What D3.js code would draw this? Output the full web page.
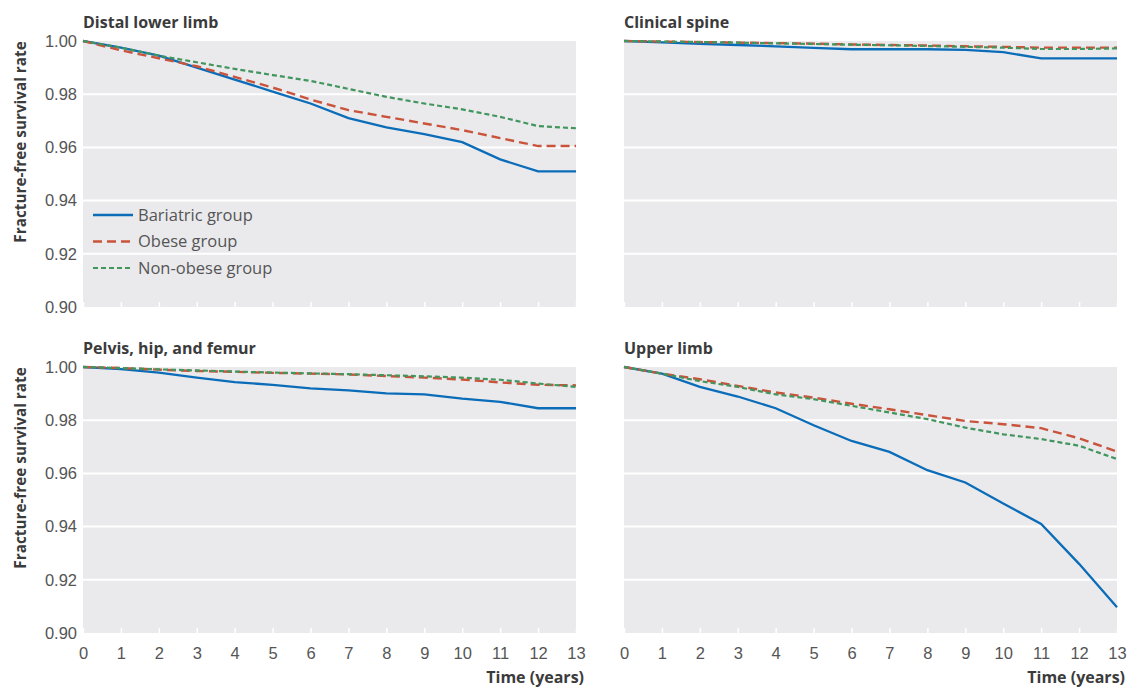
<!DOCTYPE html>
<html>
<head>
<meta charset="utf-8">
<script src="https://cdn.jsdelivr.net/npm/d3@7"></script>
<style>
  body { margin: 0; background: #fff; }
  svg { font-family: "Open Sans", Lato, sans-serif; }
</style>
</head>
<body>
<svg></svg>
<script>
const YEARS = [0, 1, 2, 3, 4, 5, 6, 7, 8, 9, 10, 11, 12, 13];
const Y_TICKS = [0.90, 0.92, 0.94, 0.96, 0.98, 1.00];
const GROUPS = ["Bariatric group", "Obese group", "Non-obese group"];
const PANEL_TITLES = ["Distal lower limb", "Clinical spine", "Pelvis, hip, and femur", "Upper limb"];

// survival per year, one array per group per panel
const distalBariatric = [1.0, 0.9975, 0.9945, 0.990, 0.9855, 0.981, 0.9765, 0.971, 0.9675, 0.965, 0.9620, 0.9555, 0.951, 0.951];
const distalObese     = [1.0, 0.9965, 0.9935, 0.9905, 0.9865, 0.9825, 0.978, 0.974, 0.9715, 0.969, 0.9665, 0.9635, 0.9605, 0.9605];
const distalNonObese  = [1.0, 0.9975, 0.9945, 0.992, 0.9895, 0.9872, 0.985, 0.982, 0.979, 0.9765, 0.9743, 0.9715, 0.968, 0.9672];

const spineBariatric = [1.0, 0.9995, 0.9989, 0.9985, 0.998, 0.9974, 0.9969, 0.9969, 0.9969, 0.9967, 0.9958, 0.9935, 0.9935, 0.9935];
const spineObese     = [1.0, 0.9998, 0.9996, 0.9994, 0.9992, 0.999, 0.9987, 0.9985, 0.9983, 0.998, 0.9978, 0.9975, 0.9975, 0.9975];
const spineNonObese  = [1.0, 0.9998, 0.9996, 0.9994, 0.9991, 0.9989, 0.9986, 0.9984, 0.9981, 0.9978, 0.9975, 0.997, 0.997, 0.9972];

const pelvisBariatric = [1.0, 0.9992, 0.9979, 0.996, 0.9943, 0.9933, 0.992, 0.9912, 0.9901, 0.9897, 0.9881, 0.9869, 0.9845, 0.9845];
const pelvisObese     = [1.0, 0.9996, 0.999, 0.9985, 0.9982, 0.9978, 0.9975, 0.9972, 0.9966, 0.996, 0.9953, 0.9942, 0.9933, 0.9931];
const pelvisNonObese  = [1.0, 0.9996, 0.9991, 0.9987, 0.9983, 0.9979, 0.9976, 0.9973, 0.9969, 0.9965, 0.996, 0.9952, 0.9938, 0.9925];

const upperBariatric = [1.0, 0.9975, 0.9925, 0.9889, 0.9845, 0.9781, 0.9722, 0.9681, 0.9612, 0.9566, 0.9487, 0.941, 0.926, 0.9097];
const upperObese     = [1.0, 0.9975, 0.9954, 0.9929, 0.9904, 0.9885, 0.9862, 0.9841, 0.9819, 0.9797, 0.9785, 0.977, 0.9732, 0.9682];
const upperNonObese  = [1.0, 0.9975, 0.9947, 0.9925, 0.9897, 0.9879, 0.9854, 0.9829, 0.9804, 0.9772, 0.9747, 0.9729, 0.9704, 0.9654];

const PANEL_DATA = [
  [distalBariatric, distalObese, distalNonObese],
  [spineBariatric, spineObese, spineNonObese],
  [pelvisBariatric, pelvisObese, pelvisNonObese],
  [upperBariatric, upperObese, upperNonObese]
];

const WIDTH = 1130, HEIGHT = 689;
const COL_X = [83, 624];
const ROW_Y = [41, 367];
const PW = 493, PH = 266;

const STYLES = [
  { color: "#0b6cb8", width: 2.3, dash: null },
  { color: "#c9533b", width: 2.4, dash: "9,5" },
  { color: "#41955d", width: 2.2, dash: "5,3" }
];

const svg = d3.select('svg')
  .attr('width', WIDTH)
  .attr('height', HEIGHT);

const xScale = d3.scaleLinear().domain([0, 13]).range([0, PW]);
const yScale = d3.scaleLinear().domain([0.90, 1.00]).range([PH, 0]);

const line = d3.line()
  .x((d, i) => xScale(YEARS[i]))
  .y(d => yScale(d));

PANEL_TITLES.forEach((title, p) => {
  const col = p % 2, row = Math.floor(p / 2);
  const g = svg.append('g').attr('transform', `translate(${COL_X[col]},${ROW_Y[row]})`);

  g.append('rect')
    .attr('width', PW).attr('height', PH)
    .attr('fill', '#eaeaed');

  // grid
  g.selectAll('.grid')
    .data(Y_TICKS.slice(1, -1))
    .enter().append('line')
    .attr('x1', 0).attr('x2', PW)
    .attr('y1', d => yScale(d)).attr('y2', d => yScale(d))
    .attr('stroke', '#fff').attr('stroke-width', 2);

  // x axis: white inward ticks, labels on bottom row only
  const xAxis = g.append('g')
    .attr('transform', `translate(0,${PH})`)
    .call(d3.axisBottom(xScale).tickValues(YEARS).tickSizeInner(-5).tickSizeOuter(0).tickPadding(14));
  xAxis.select('.domain').remove();
  xAxis.selectAll('line').attr('stroke', '#fff').attr('stroke-width', 1.5);
  xAxis.selectAll('text')
    .attr('fill', '#555').style('font-size', '16.5px')
    .style('display', row === 1 ? null : 'none');

  if (col === 0) {
    const yAxis = g.append('g')
      .call(d3.axisLeft(yScale).tickValues(Y_TICKS).tickFormat(d3.format('.2f')).tickSize(0).tickPadding(6));
    yAxis.select('.domain').remove();
    yAxis.selectAll('text').attr('fill', '#555').style('font-size', '16.5px');
  }

  g.append('text')
    .attr('x', 0).attr('y', -13)
    .attr('fill', '#3b3b3b')
    .style('font-size', '16px').style('font-weight', 'bold')
    .text(title);

  PANEL_DATA[p].forEach((series, s) => {
    g.append('path')
      .datum(series)
      .attr('d', line)
      .attr('fill', 'none')
      .attr('stroke', STYLES[s].color)
      .attr('stroke-width', STYLES[s].width)
      .attr('stroke-dasharray', STYLES[s].dash);
  });

  if (row === 1) {
    g.append('text')
      .attr('x', PW + 8).attr('y', PH + 50)
      .attr('text-anchor', 'end')
      .attr('fill', '#3b3b3b')
      .style('font-size', '16px').style('font-weight', 'bold')
      .text('Time (years)');
  }
  if (col === 0) {
    g.append('text')
      .attr('transform', `translate(-57,${PH / 2 - 32}) rotate(-90)`)
      .attr('text-anchor', 'middle')
      .attr('fill', '#3b3b3b')
      .style('font-size', '15.3px').style('font-weight', 'bold')
      .text('Fracture-free survival rate');
  }
});

// legend in first panel
const legend = svg.append('g').attr('transform', `translate(${COL_X[0] + 10},${ROW_Y[0] + 174})`);
GROUPS.forEach((name, i) => {
  const item = legend.append('g').attr('transform', `translate(0,${i * 26.5})`);
  item.append('line')
    .attr('x1', 0).attr('x2', 40)
    .attr('stroke', STYLES[i].color)
    .attr('stroke-width', STYLES[i].width)
    .attr('stroke-dasharray', STYLES[i].dash);
  item.append('text')
    .attr('x', 45).attr('dy', '0.35em')
    .attr('fill', '#555').style('font-size', '16.5px')
    .text(name);
});
</script>
</body>
</html>
